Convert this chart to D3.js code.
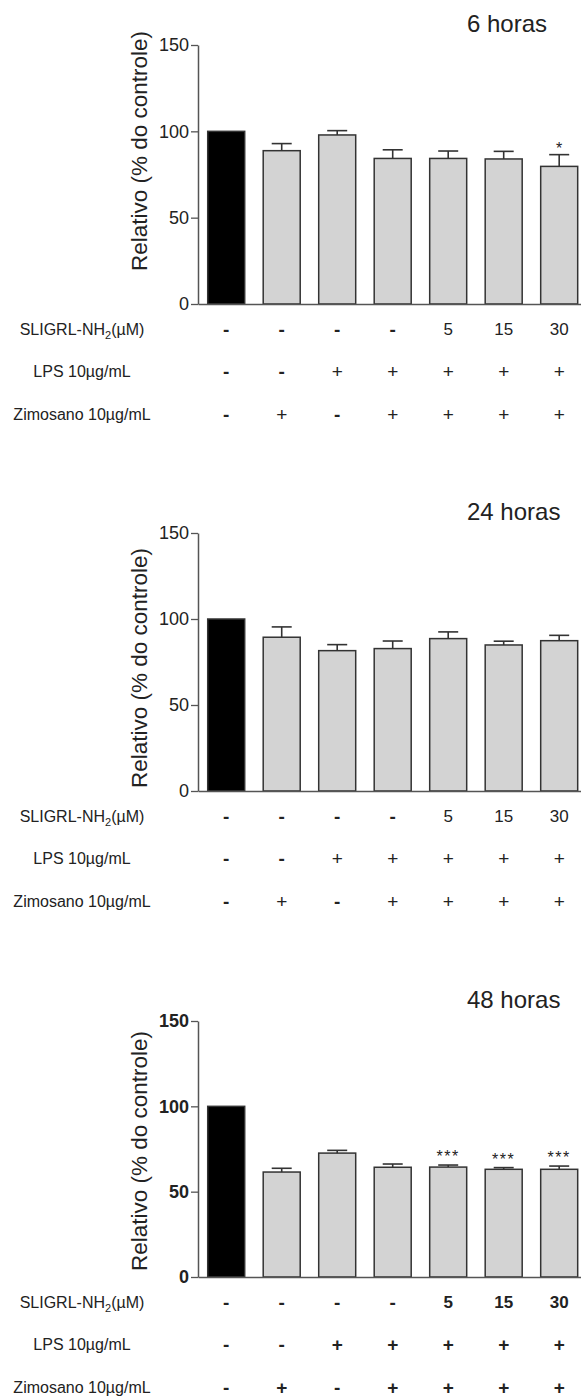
<!DOCTYPE html>
<html>
<head>
<meta charset="utf-8">
<script src="https://cdn.jsdelivr.net/npm/d3@7"></script>
<style>
  body { margin: 0; background: #fff; }
  text { font-family: "Liberation Sans", Arial, sans-serif; fill: #222; }
</style>
</head>
<body>
<div id="chart"></div>
<script>
// groups (same for each time point)
var groups = ["Controle", "Zimosano", "LPS", "LPS+Zimosano", "SLIGRL 5", "SLIGRL 15", "SLIGRL 30"];
var sligrlRow = ["-", "-", "-", "-", "5", "15", "30"];
var lpsRow = ["-", "-", "+", "+", "+", "+", "+"];
var zimRow = ["-", "+", "-", "+", "+", "+", "+"];
var rowLabels = ["SLIGRL-NH2(µM)", "LPS 10µg/mL", "Zimosano 10µg/mL"];

var titles = ["6 horas", "24 horas", "48 horas"];
var yTicks = [0, 50, 100, 150];

// mean and error (% of control)
var mean6h = [100, 88.8, 97.9, 84.3, 84.3, 84.0, 79.7];
var err6h = [0, 4.1, 2.5, 5.0, 4.3, 4.4, 6.8];
var sig6h = ["", "", "", "", "", "", "*"];

var mean24h = [100, 89.4, 81.6, 82.8, 88.6, 84.9, 87.4];
var err24h = [0, 6.0, 3.5, 4.4, 3.9, 2.2, 3.1];
var sig24h = ["", "", "", "", "", "", ""];

var mean48h = [100, 61.5, 72.6, 64.3, 64.4, 63.1, 63.1];
var err48h = [0, 2.2, 1.6, 1.9, 1.2, 1.0, 1.9];
var sig48h = ["", "", "", "", "***", "***", "***"];

var panels = [
	{title: titles[0], mean: mean6h, err: err6h, sig: sig6h, top: 45, bottom: 304, labelY: 151, bold: false},
	{title: titles[1], mean: mean24h, err: err24h, sig: sig24h, top: 533, bottom: 791, labelY: 668, bold: false},
	{title: titles[2], mean: mean48h, err: err48h, sig: sig48h, top: 1021, bottom: 1277, labelY: 1151, bold: true}
];

var W = 581, H = 1398;
var axisX = 198;

var svg = d3.select("#chart")
	.append("svg")
	.attr("width", W)
	.attr("height", H);

var x = d3.scaleBand()
	.domain(groups)
	.range([axisX, 587.4])
	.paddingInner(1 / 3)
	.paddingOuter(0.175);

panels.forEach(function(p) {
	var y = d3.scaleLinear().domain([0, 150]).range([p.bottom, p.top]);
	var g = svg.append("g");
	var weight = p.bold ? "bold" : "normal";

	// bars
	g.selectAll("rect.bar")
		.data(groups)
		.enter().append("rect")
		.attr("class", "bar")
		.attr("x", function(d) { return x(d); })
		.attr("y", function(d, i) { return y(p.mean[i]); })
		.attr("width", x.bandwidth())
		.attr("height", function(d, i) { return y(0) - y(p.mean[i]); })
		.attr("fill", function(d, i) { return i == 0 ? "#000" : "#d3d3d3"; })
		.attr("stroke", "#333")
		.attr("stroke-width", 1.5);

	// error bars (upper only)
	var eb = g.selectAll("g.err")
		.data(groups.filter(function(d, i) { return p.err[i] > 0; }))
		.enter().append("g")
		.attr("class", "err")
		.attr("stroke", "#333")
		.attr("stroke-width", 1.6);
	eb.append("line")
		.attr("x1", function(d) { return x(d) + x.bandwidth() / 2; })
		.attr("x2", function(d) { return x(d) + x.bandwidth() / 2; })
		.attr("y1", function(d) { var i = groups.indexOf(d); return y(p.mean[i]); })
		.attr("y2", function(d) { var i = groups.indexOf(d); return y(p.mean[i] + p.err[i]); });
	eb.append("line")
		.attr("x1", function(d) { return x(d) + x.bandwidth() / 2 - 10; })
		.attr("x2", function(d) { return x(d) + x.bandwidth() / 2 + 10; })
		.attr("y1", function(d) { var i = groups.indexOf(d); return y(p.mean[i] + p.err[i]); })
		.attr("y2", function(d) { var i = groups.indexOf(d); return y(p.mean[i] + p.err[i]); });

	// significance stars
	g.selectAll("text.sig")
		.data(groups)
		.enter().append("text")
		.attr("class", "sig")
		.attr("x", function(d) { return x(d) + x.bandwidth() / 2; })
		.attr("y", function(d, i) { return y(p.mean[i] + p.err[i]) - (p.bold ? 3 : 1); })
		.attr("text-anchor", "middle")
		.attr("font-size", 16)
		.attr("letter-spacing", p.bold ? 1.5 : 0)
		.text(function(d, i) { return p.sig[i]; });

	// y axis
	var yAxis = d3.axisLeft(y).tickValues(yTicks).tickSize(7).tickSizeOuter(0).tickPadding(2);
	var ya = g.append("g")
		.attr("transform", "translate(" + axisX + ",0)")
		.call(yAxis);
	ya.select(".domain").attr("stroke", "#555").attr("stroke-width", 1.5);
	ya.selectAll(".tick line").attr("stroke", "#555").attr("stroke-width", 1.3);
	ya.selectAll(".tick text")
		.attr("font-size", 18)
		.attr("font-weight", weight)
		.attr("fill", "#222")
		.style("font-family", '"Liberation Sans", Arial, sans-serif');

	// x axis line
	var xAxis = d3.axisBottom(x).tickValues([]).tickSizeOuter(0);
	var xa = g.append("g")
		.attr("transform", "translate(0," + y(0) + ")")
		.call(xAxis);
	xa.select(".domain").attr("stroke", "#555").attr("stroke-width", 1.5);

	// title
	g.append("text")
		.attr("x", 467)
		.attr("y", p.top - 13.5)
		.attr("font-size", 24)
		.text(p.title);

	// y label
	g.append("text")
		.attr("transform", "translate(147," + p.labelY + ") rotate(-90)")
		.attr("text-anchor", "middle")
		.attr("font-size", 22.5)
		.text("Relativo (% do controle)");

	// treatment table under the bars
	var rows = [sligrlRow, lpsRow, zimRow];
	var rowOffsets = [25, 67, 110];
	rows.forEach(function(row, r) {
		var ry = y(0) + rowOffsets[r];
		var lab = g.append("text")
			.attr("x", 82)
			.attr("y", ry)
			.attr("dy", "0.35em")
			.attr("text-anchor", "middle")
			.attr("font-size", 16);
		if (r == 0) {
			lab.append("tspan").text("SLIGRL-NH");
			lab.append("tspan").attr("font-size", 11).attr("dy", 4).text("2");
			lab.append("tspan").attr("dy", -4).text("(µM)");
		} else {
			lab.text(rowLabels[r]);
		}
		g.selectAll("text.row" + r)
			.data(row)
			.enter().append("text")
			.attr("class", "row" + r)
			.attr("x", function(d, i) { return x(groups[i]) + x.bandwidth() / 2; })
			.attr("y", ry)
			.attr("dy", "0.35em")
			.attr("text-anchor", "middle")
			.attr("font-size", function(d) { return (d == "+" || d == "-") ? 19 : 17; })
			.attr("font-weight", function(d) { return (p.bold || d == "-") ? "bold" : "normal"; })
			.text(function(d) { return d; });
	});
});
</script>
</body>
</html>
